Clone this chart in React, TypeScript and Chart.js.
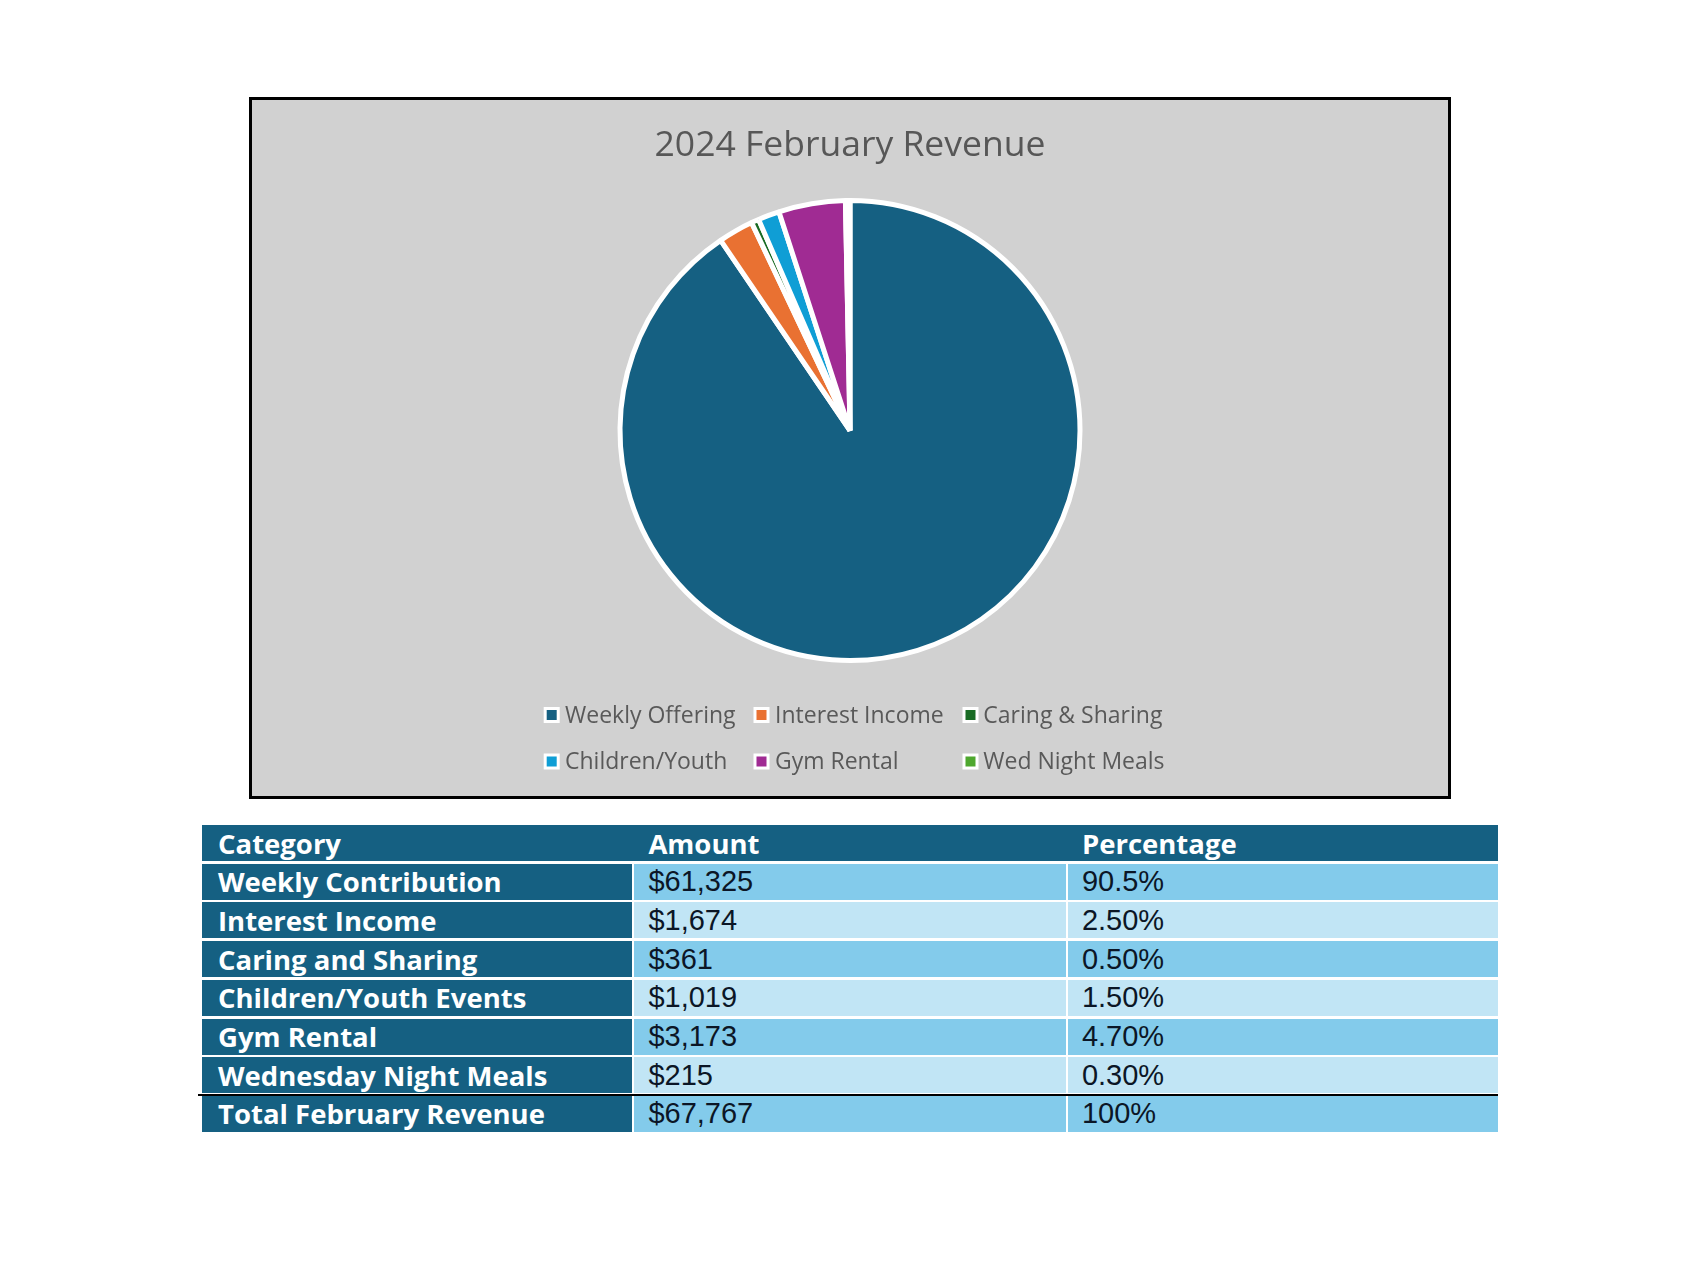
import React, { useEffect, useRef } from 'react';
import { Chart, registerables } from 'chart.js';

Chart.register(...registerables);

// ---- Data ----
const chartTitle = '2024 February Revenue';
const categories = ['Weekly Offering', 'Interest Income', 'Caring & Sharing', 'Children/Youth', 'Gym Rental', 'Wed Night Meals'];
const amounts = [61325, 1674, 361, 1019, 3173, 215];
const sliceColors = ['#156082', '#E97132', '#196B24', '#0F9ED5', '#A02B93', '#4EA72E'];

const tableHeaders = ['Category', 'Amount', 'Percentage'];
const tableCategories = ['Weekly Contribution', 'Interest Income', 'Caring and Sharing', 'Children/Youth Events', 'Gym Rental', 'Wednesday Night Meals'];
const tablePercentages = ['90.5%', '2.50%', '0.50%', '1.50%', '4.70%', '0.30%'];
const totalLabel = 'Total February Revenue';
const totalPercentage = '100%';

// ---- Layout constants ----
const BOX = { left: 249, top: 97, width: 1202, height: 702, border: 3 };
const CANVAS_W = BOX.width - BOX.border * 2;
const CANVAS_H = BOX.height - BOX.border * 2;

const LEGEND_MARK_X = [299.7, 509.5, 718.5];
const LEGEND_TEXT_X = [313, 523, 731.3];
const LEGEND_MARK_Y = [615, 661.5];
const LEGEND_BASELINE = [623.3, 669.3];

const TABLE = { left: 202, right: 1498, top: 825, pitch: 38.7, rowH: 36.1 };
const COLS = [
  { x: 202, w: 429.7, pad: 16 },
  { x: 634.4, w: 431.3, pad: 14 },
  { x: 1067.9, w: 430.1, pad: 14 },
];

const DARK = '#156082';
const LIGHT_A = '#83CBEB';
const LIGHT_B = '#C1E5F5';

const fmt = (n: number) => '$' + n.toLocaleString('en-US');

const overlayPlugin = {
  id: 'overlayText',
  afterDraw(chart: any) {
    const ctx = chart.ctx as CanvasRenderingContext2D;
    ctx.save();
    // title
    ctx.font = '35.5px "Open Sans"';
    ctx.fillStyle = '#575757';
    ctx.textAlign = 'center';
    ctx.textBaseline = 'alphabetic';
    ctx.fillText(chartTitle, CANVAS_W / 2, 55.7);
    // legend
    ctx.textAlign = 'left';
    ctx.font = '23px "Open Sans"';
    categories.forEach((label, i) => {
      const col = i % 3;
      const row = Math.floor(i / 3);
      const mx = LEGEND_MARK_X[col];
      const my = LEGEND_MARK_Y[row];
      ctx.fillStyle = '#ffffff';
      ctx.fillRect(mx - 8, my - 8, 16, 16);
      ctx.fillStyle = sliceColors[i];
      ctx.fillRect(mx - 5, my - 5, 10, 10);
      ctx.fillStyle = '#595959';
      ctx.fillText(label, LEGEND_TEXT_X[col], LEGEND_BASELINE[row]);
    });
    ctx.restore();
  },
};

function PieChart() {
  const ref = useRef<HTMLCanvasElement | null>(null);
  useEffect(() => {
    if (!ref.current) return;
    const chart = new Chart(ref.current, {
      type: 'pie',
      data: {
        labels: categories,
        datasets: [
          {
            data: amounts,
            backgroundColor: sliceColors,
            borderColor: '#ffffff',
            borderWidth: 5,
            radius: 230,
          } as any,
        ],
      },
      options: {
        responsive: false,
        animation: false,
        devicePixelRatio: 1,
        layout: { padding: { top: 80, bottom: 115, left: 0, right: 0 } },
        plugins: {
          legend: { display: false },
          title: { display: false },
          tooltip: { enabled: false },
        },
      },
      plugins: [overlayPlugin],
    });
    return () => chart.destroy();
  }, []);
  return <canvas ref={ref} width={CANVAS_W} height={CANVAS_H} style={{ display: 'block', width: CANVAS_W, height: CANVAS_H }} />;
}

function Cell(props: { col: number; row: number; bg: string; text: string; bold?: boolean; color: string }) {
  const c = COLS[props.col];
  const top = TABLE.top + props.row * TABLE.pitch;
  return (
    <div
      style={{
        position: 'absolute',
        left: c.x,
        top,
        width: c.w,
        height: TABLE.rowH,
        background: props.bg,
        display: 'flex',
        alignItems: 'center',
        paddingLeft: c.pad,
        boxSizing: 'border-box',
        color: props.color,
        fontFamily: props.bold ? '"Open Sans", sans-serif' : '"Liberation Sans", Arial, sans-serif',
        fontWeight: props.bold ? 700 : 400,
        fontSize: props.bold ? 27.5 : 29,
        whiteSpace: 'nowrap',
      }}
    >
      {props.text}
    </div>
  );
}

export default function App() {
  const total = amounts.reduce((a, b) => a + b, 0);
  const bodyRows = tableCategories.map((cat, i) => ({
    cat,
    amt: fmt(amounts[i]),
    pct: tablePercentages[i],
  }));
  bodyRows.push({ cat: totalLabel, amt: fmt(total), pct: totalPercentage });

  return (
    <div style={{ position: 'absolute', left: 0, top: 0, width: 1700, height: 1274, background: '#ffffff', overflow: 'hidden' }}>
      <div
        style={{
          position: 'absolute',
          left: BOX.left,
          top: BOX.top,
          width: BOX.width,
          height: BOX.height,
          border: `${BOX.border}px solid #000`,
          boxSizing: 'border-box',
          background: '#D1D1D1',
        }}
      >
        <PieChart />
      </div>

      {/* header */}
      <div
        style={{
          position: 'absolute',
          left: TABLE.left,
          top: TABLE.top,
          width: TABLE.right - TABLE.left,
          height: TABLE.rowH,
          background: DARK,
        }}
      />
      {tableHeaders.map((h, i) => (
        <Cell key={'h' + i} col={i} row={0} bg="transparent" text={h} bold color="#ffffff" />
      ))}

      {bodyRows.map((r, i) => {
        const row = i + 1;
        const bg = i % 2 === 0 ? LIGHT_A : LIGHT_B;
        return (
          <React.Fragment key={'r' + i}>
            <Cell col={0} row={row} bg={DARK} text={r.cat} bold color="#ffffff" />
            <Cell col={1} row={row} bg={bg} text={r.amt} color="#0B1626" />
            <Cell col={2} row={row} bg={bg} text={r.pct} color="#0B1626" />
          </React.Fragment>
        );
      })}

      {/* black rule above total */}
      <div
        style={{
          position: 'absolute',
          left: 198,
          top: TABLE.top + 7 * TABLE.pitch - 2.4,
          width: TABLE.right - 198,
          height: 2,
          background: '#000',
        }}
      />
    </div>
  );
}
